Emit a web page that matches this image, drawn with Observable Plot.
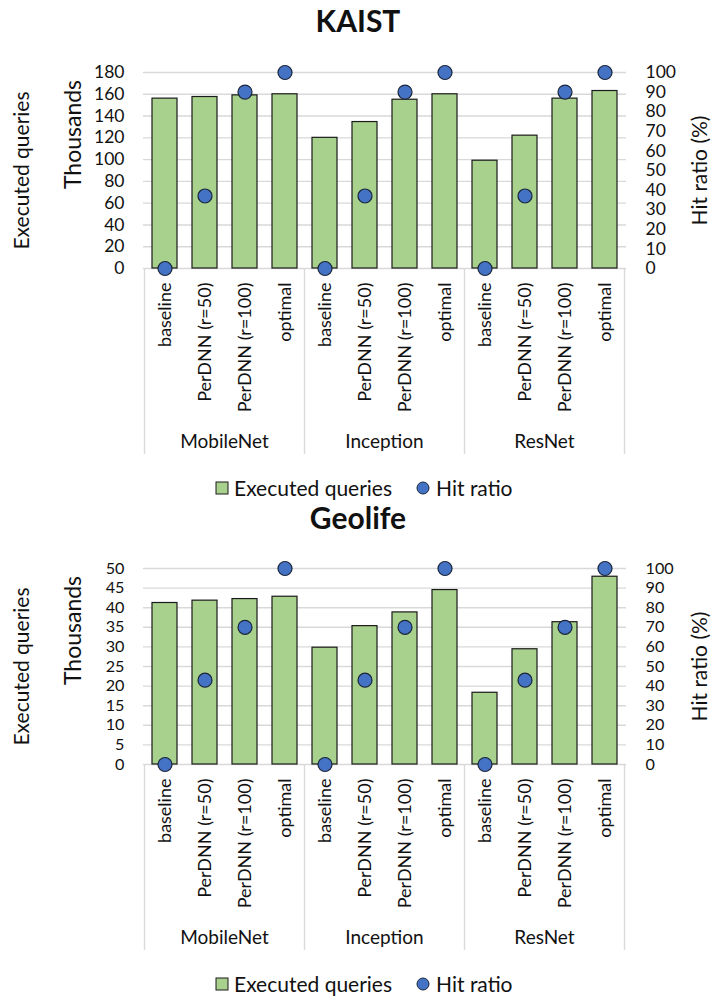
<!DOCTYPE html>
<html><head><meta charset="utf-8">
<script src="https://cdn.jsdelivr.net/npm/d3@7"></script>
<script src="https://cdn.jsdelivr.net/npm/@observablehq/plot@0.6"></script>
<style>
body{margin:0;background:#fff;font-family:Lato,"Open Sans",sans-serif;color:#111;}
#wrap{position:relative;width:711px;height:998px;overflow:hidden;}
.title{position:absolute;left:0;width:716px;text-align:center;font-weight:bold;font-size:30px;line-height:30px;}
.panel{position:absolute;left:0;}
.legend{position:absolute;left:215px;font-size:21px;line-height:22px;display:flex;align-items:center;white-space:nowrap;}
.legend svg{display:block;}
</style></head>
<body><div id="wrap"></div>
<script>
const groups = ["MobileNet", "Inception", "ResNet"];
const methods = ["baseline", "PerDNN (r=50)", "PerDNN (r=100)", "optimal"];
const kaistQueries = [156, 157.5, 159, 160, 120, 134.5, 155, 160, 99, 122, 156, 163];
const kaistHit = [0, 37, 90, 100, 0, 37, 90, 100, 0, 37, 90, 100];
const kaistTicks = [0, 20, 40, 60, 80, 100, 120, 140, 160, 180];
const geoQueries = [41.2, 41.8, 42.2, 42.8, 29.8, 35.3, 38.8, 44.5, 18.3, 29.4, 36.3, 47.9];
const geoHit = [0, 43, 70, 100, 0, 43, 70, 100, 0, 43, 70, 100];
const geoTicks = [0, 5, 10, 15, 20, 25, 30, 35, 40, 45, 50];
const hitTicks = [0, 10, 20, 30, 40, 50, 60, 70, 80, 90, 100];

const wrap = document.getElementById("wrap");

function panel(title, queries, hits, ticks, top, titleTop, tickFont) {
  const ymax = ticks[ticks.length - 1];
  const k = ymax / 100;
  const rows = [];
  groups.forEach((g, gi) => methods.forEach((m, mi) => {
    const i = gi * methods.length + mi;
    rows.push({key: g + "|" + m, group: g, method: m, q: queries[i], hit: hits[i]});
  }));
  const keys = rows.map(r => r.key);
  const t = document.createElement("div");
  t.className = "title"; t.style.top = titleTop + "px"; t.textContent = title;
  wrap.appendChild(t);

  const chart = Plot.plot({
    width: 711, height: 430,
    marginLeft: 143, marginRight: 85, marginTop: 32, marginBottom: 202,
    style: {fontFamily: "Lato, 'Open Sans', sans-serif", color: "#111", background: "transparent", overflow: "visible"},
    x: {domain: keys, paddingInner: 0.38, paddingOuter: 0.19, axis: null},
    y: {domain: [0, ymax], axis: null},
    marks: [
      Plot.gridY(ticks, {stroke: "#d9d9d9", strokeOpacity: 1, strokeWidth: 1.4}),
      Plot.axisY({anchor: "left", ticks: ticks, tickSize: 0, tickPadding: 19, fontSize: tickFont, label: null, tickFormat: d => String(d)}),
      Plot.axisY({anchor: "right", ticks: hitTicks.map(v => v * k), tickSize: 0, tickPadding: 19, fontSize: tickFont, label: null, tickFormat: d => String(Math.round(d / k))}),
      Plot.barY(rows, {x: "key", y: "q", fill: "#a9d18e", stroke: "#1a1a1a", strokeWidth: 1.2}),
      Plot.dot(rows, {x: "key", y: d => d.hit * k, r: 7, fill: "#4472c4", stroke: "#1b2538", strokeWidth: 1.2}),
      Plot.text(rows, {x: "key", text: "method", frameAnchor: "bottom", dy: 14, rotate: -90, textAnchor: "end", lineAnchor: "middle", fontSize: 18}),
      Plot.text(["Executed queries"], {frameAnchor: "left", dx: -121, rotate: -90, fontSize: 21, textAnchor: "middle", lineAnchor: "middle"}),
      Plot.text(["Thousands"], {frameAnchor: "left", dx: -70, dy: -36, rotate: -90, fontSize: 23, textAnchor: "middle", lineAnchor: "middle"}),
      Plot.text(["Hit ratio (%)"], {frameAnchor: "right", dx: 74, rotate: -90, fontSize: 21, textAnchor: "middle", lineAnchor: "middle"})
    ]
  });
  chart.style.position = "absolute";
  chart.style.left = "0px";
  chart.style.top = top + "px";
  // group separators and group labels placed with Plot's x scale
  const xs = chart.scale("x");
  const bw = xs.bandwidth;
  const step = xs.apply(keys[1]) - xs.apply(keys[0]);
  const half = (step - bw) / 2;
  const yb = 430 - 202;
  const svg = d3.select(chart);
  const gsep = svg.append("g").attr("stroke", "#d9d9d9").attr("stroke-width", 1.4);
  const bounds = groups.map((g, gi) => xs.apply(keys[gi * methods.length]) - half);
  bounds.push(xs.apply(keys[keys.length - 1]) + bw + half);
  bounds.forEach(b => gsep.append("line").attr("x1", b).attr("x2", b).attr("y1", yb).attr("y2", yb + 186));
  const gl = svg.append("g").attr("font-size", 19).attr("text-anchor", "middle").attr("fill", "#111");
  groups.forEach((g, gi) => {
    gl.append("text").attr("x", (bounds[gi] + bounds[gi + 1]) / 2).attr("y", yb + 173).attr("dy", "0.35em").text(g);
  });
  wrap.appendChild(chart);
}

function legend(top) {
  const d = document.createElement("div");
  d.className = "legend"; d.style.top = (top - 11) + "px";
  d.innerHTML = `<svg width="14" height="14"><rect x="1" y="1" width="12" height="12" fill="#a9d18e" stroke="#1a1a1a" stroke-width="1"/></svg>
  <span style="margin-left:5px">Executed queries</span>
  <svg width="14" height="14" style="margin-left:24px"><circle cx="7" cy="7" r="6" fill="#4472c4" stroke="#1b2538" stroke-width="1"/></svg>
  <span style="margin-left:6px">Hit ratio</span>`;
  wrap.appendChild(d);
}

panel("KAIST", kaistQueries, kaistHit, kaistTicks, 40, 5, 17.5);
legend(488);
panel("Geolife", geoQueries, geoHit, geoTicks, 536, 502, 16.2);
legend(984);
</script>
</body></html>
